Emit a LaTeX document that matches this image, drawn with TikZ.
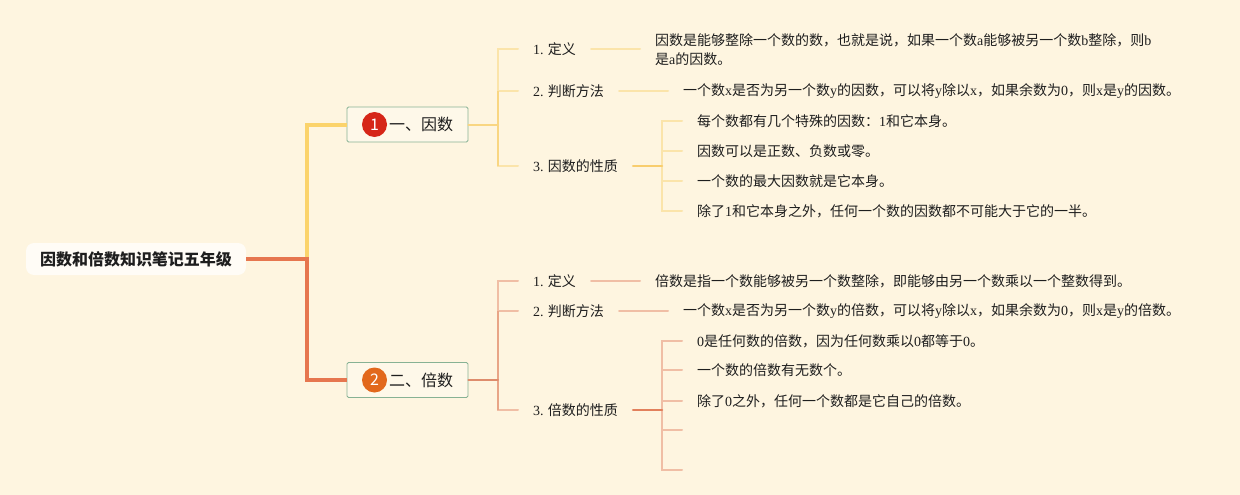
\documentclass[tikz,border=0pt]{standalone}
\usepackage{fontspec}
\setmainfont{Noto Sans CJK SC}
\newfontfamily\lat{Liberation Serif}
\newcommand\Lt[1]{{\lat #1}}
\usetikzlibrary{calc}
\definecolor{bgc}{RGB}{254,245,224}
\definecolor{rootred}{RGB}{230,118,79}
\definecolor{mainyel}{RGB}{251,211,107}
\definecolor{yelmid}{RGB}{249,214,130}
\definecolor{yellight}{RGB}{251,228,170}
\definecolor{yeldeep}{RGB}{248,205,110}
\definecolor{salmid}{RGB}{222,140,108}
\definecolor{salvert}{RGB}{232,165,135}
\definecolor{sallight}{RGB}{240,190,165}
\definecolor{saldeep}{RGB}{226,128,92}
\definecolor{boxgreen}{RGB}{135,178,148}
\definecolor{markred}{RGB}{214,38,24}
\definecolor{markorange}{RGB}{226,104,28}
\definecolor{txt}{RGB}{30,30,30}
\tikzset{
  rootbox/.style={fill=white!70!bgc, rounded corners=8pt, minimum width=220pt, minimum height=32pt, font=\fontsize{16}{18}\selectfont\bfseries, text=txt},
  topicbox/.style={draw=boxgreen, line width=0.9pt, fill=white!30!bgc, rounded corners=1.5pt, minimum width=121pt, minimum height=35pt, font=\fontsize{16}{18}\selectfont, text=txt},
  marker/.style={circle, inner sep=0pt, minimum size=25pt, text=white, font=\fontsize{16}{18}\selectfont},
  lab/.style={anchor=west, inner sep=0pt, font=\fontsize{14}{19}\selectfont, text=txt},
  leaf/.style={anchor=west, inner sep=0pt, align=left, font=\fontsize{14}{19}\selectfont, text=txt},
}
\begin{document}
\begin{tikzpicture}[x=1pt,y=-1pt, line cap=round]
\useasboundingbox[fill=bgc] (0,0) rectangle (1240,495);

% root and topics
\node[rootbox] (root) at (136,259) {因数和倍数知识笔记五年级};
\node[topicbox] (n1) at (407.5,124.5) {};
\node[marker, fill=markred] (m1) at (374.5,124.5) {1};
\node[anchor=west, inner sep=0pt, font=\fontsize{16}{18}\selectfont, text=txt] (t1) at (389,124.5) {一、因数};
\node[topicbox] (n2) at (407.5,380) {};
\node[marker, fill=markorange] (m2) at (374.5,380) {2};
\node[anchor=west, inner sep=0pt, font=\fontsize{16}{18}\selectfont, text=txt] (t2) at (389,380) {二、倍数};

\coordinate (j0) at (307,259);
\draw[rootred, line width=4pt, line cap=butt] (root.east) -- (j0) |- (n2.west);
\draw[mainyel, line width=4pt, line cap=butt] ($(j0)+(0,-2)$) |- (n1.west);

% ---- branch 1 ----
\coordinate (ja) at (498,124.5);
\node[lab] (a1) at (533,49) {\Lt{1.} 定义};
\node[lab] (a2) at (533,91) {\Lt{2.} 判断方法};
\node[lab] (a3) at (533,166) {\Lt{3.} 因数的性质};
\draw[yellight, line width=2pt] (ja) |- ($(a1.west)+(-15,0)$);
\draw[yellight, line width=2pt] (ja) |- ($(a3.west)+(-15,0)$);
\draw[yellight, line width=2pt] (ja) |- ($(a2.west)+(-15,0)$);
\draw[yelmid, line width=2pt, line cap=butt] (ja |- a2.west) -- (ja |- a3.west);
\draw[yelmid, line width=2pt] (n1.east) -- (ja);

\node[leaf, anchor=north west] (a1t) at (655,33) {因数是能够整除一个数的数，也就是说，如果一个数\Lt{a}能够被另一个数\Lt{b}整除，则\Lt{b}\\是\Lt{a}的因数。};
\draw[yellight, line width=2pt] ($(a1.east)+(15,0)$) -- ($(a1t.west |- a1.east)+(-15,0)$);
\node[leaf] (a2t) at (683,91) {一个数\Lt{x}是否为另一个数\Lt{y}的因数，可以将\Lt{y}除以\Lt{x}，如果余数为\Lt{0}，则\Lt{x}是\Lt{y}的因数。};
\draw[yellight, line width=2pt] ($(a2.east)+(15,0)$) -- ($(a2t.west)+(-15,0)$);

\coordinate (jb) at (662,166);
\node[leaf] (p1) at (697,121) {每个数都有几个特殊的因数：\Lt{1}和它本身。};
\node[leaf] (p2) at (697,151) {因数可以是正数、负数或零。};
\node[leaf] (p3) at (697,181) {一个数的最大因数就是它本身。};
\node[leaf] (p4) at (697,211) {除了\Lt{1}和它本身之外，任何一个数的因数都不可能大于它的一半。};
\foreach \p in {p1,p2,p3,p4}{
  \draw[yellight, line width=2pt] (jb) |- ($(\p.west)+(-15,0)$);
}
\draw[yeldeep, line width=2.5pt] ($(a3.east)+(15,0)$) -- (jb);

% ---- branch 2 ----
\coordinate (jc) at (498,380);
\node[lab] (b1) at (533,281) {\Lt{1.} 定义};
\node[lab] (b2) at (533,311) {\Lt{2.} 判断方法};
\node[lab] (b3) at (533,410) {\Lt{3.} 倍数的性质};
\draw[sallight, line width=2pt] (jc) |- ($(b3.west)+(-15,0)$);
\draw[sallight, line width=2pt] (jc) |- ($(b1.west)+(-15,0)$);
\draw[sallight, line width=2pt] (jc) |- ($(b2.west)+(-15,0)$);
\draw[salvert, line width=2pt, line cap=butt] (jc |- b2.west) -- (jc |- b3.west);
\draw[salmid, line width=2pt] (n2.east) -- (jc);

\node[leaf] (b1t) at (655,281) {倍数是指一个数能够被另一个数整除，即能够由另一个数乘以一个整数得到。};
\draw[sallight, line width=2pt] ($(b1.east)+(15,0)$) -- ($(b1t.west)+(-15,0)$);
\node[leaf] (b2t) at (683,311) {一个数\Lt{x}是否为另一个数\Lt{y}的倍数，可以将\Lt{y}除以\Lt{x}，如果余数为\Lt{0}，则\Lt{x}是\Lt{y}的倍数。};
\draw[sallight, line width=2pt] ($(b2.east)+(15,0)$) -- ($(b2t.west)+(-15,0)$);

\coordinate (jd) at (662,410);
\node[leaf] (q1) at (697,341) {\Lt{0}是任何数的倍数，因为任何数乘以\Lt{0}都等于\Lt{0}。};
\node[leaf] (q2) at (697,370) {一个数的倍数有无数个。};
\node[leaf] (q3) at (697,401) {除了\Lt{0}之外，任何一个数都是它自己的倍数。};
\coordinate (q4) at (697,430);
\coordinate (q5) at (697,470);
\foreach \q in {q1,q2,q3}{
  \draw[sallight, line width=2pt] (jd) |- ($(\q.west)+(-15,0)$);
}
\foreach \q in {q4,q5}{
  \draw[sallight, line width=2pt] (jd) |- ($(\q)+(-15,0)$);
}
\draw[saldeep, line width=2.5pt] ($(b3.east)+(15,0)$) -- (jd);
\end{tikzpicture}
\end{document}
